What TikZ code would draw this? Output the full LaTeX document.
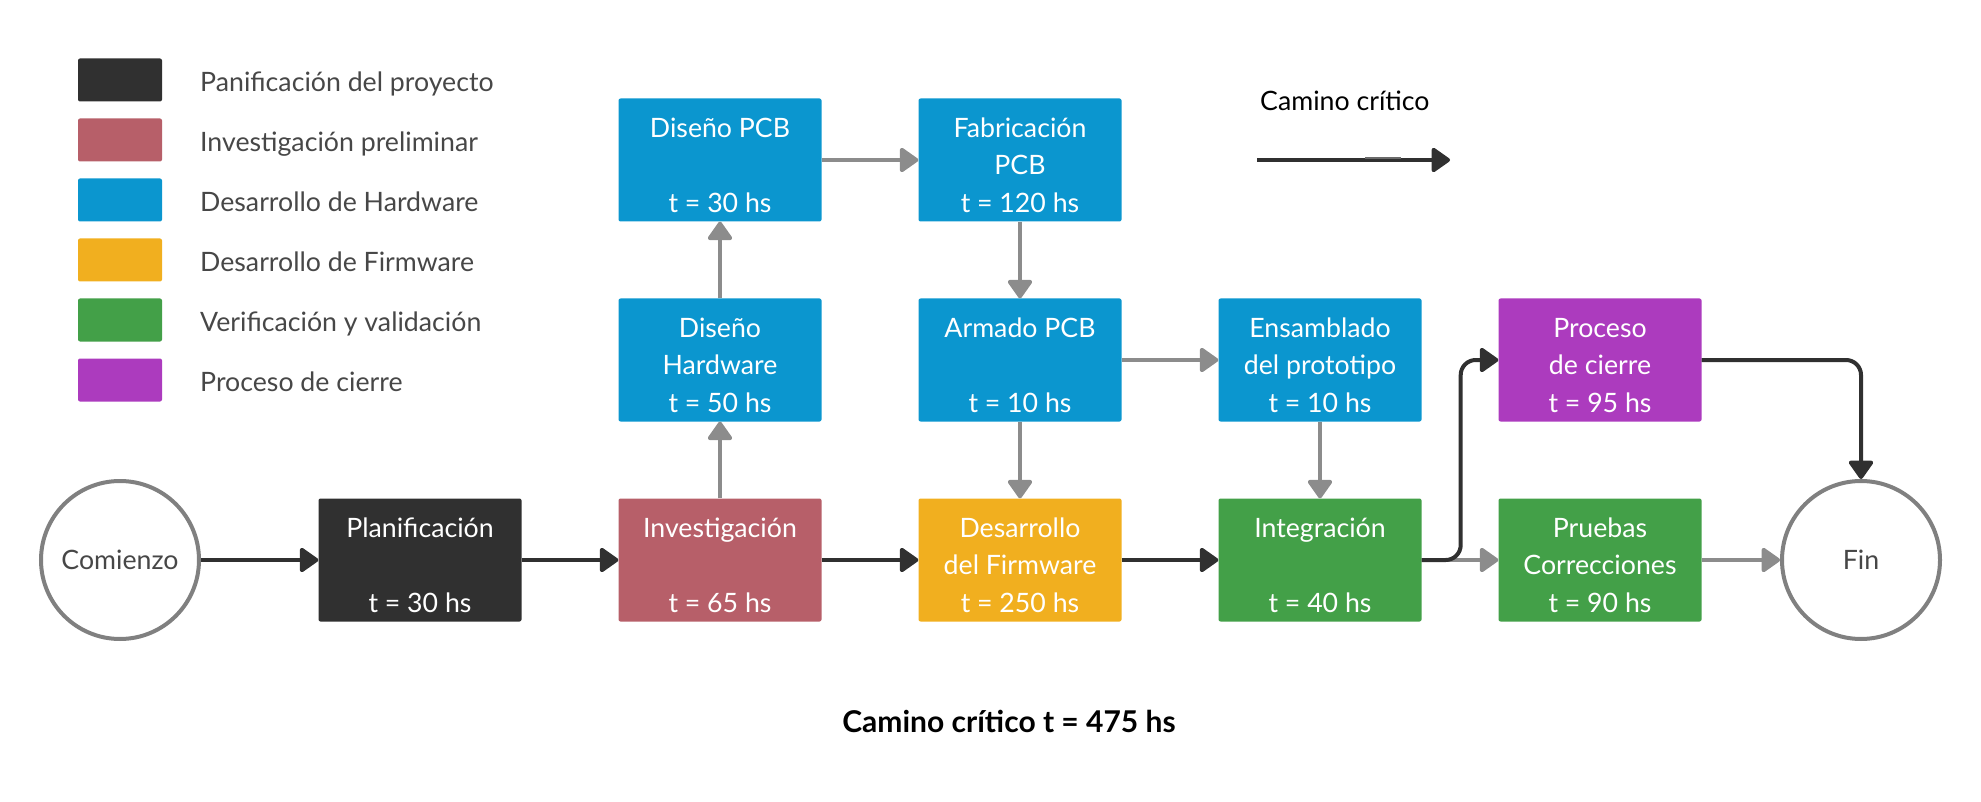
\documentclass[tikz,border=0pt]{standalone}
\usepackage{fontspec}
\setmainfont{Lato}
\usetikzlibrary{arrows.meta}
\definecolor{cblack}{HTML}{303030}
\definecolor{cred}{HTML}{B75F69}
\definecolor{cblue}{HTML}{0B96CF}
\definecolor{cyellow}{HTML}{F1AF1F}
\definecolor{cgreen}{HTML}{43A048}
\definecolor{cpurple}{HTML}{AC3BBE}
\definecolor{cgrey}{HTML}{8C8C8C}
\definecolor{cmid}{HTML}{6A6A6A}
\definecolor{ccircle}{HTML}{808080}
\definecolor{ctext}{HTML}{474747}
\newcommand\boxfont{\fontsize{26.7}{37.5}\selectfont}
\newcommand\legfont{\fontsize{26.7}{32}\selectfont}
\newcommand\tasklines[3]{\raisebox{-13.5pt}[0pt][0pt]{\begin{tabular}{@{}c@{}}#1\\#2\\#3\end{tabular}}}
\tikzset{
  task/.style={rounded corners=2pt, minimum width=203pt, minimum height=123pt,
    inner sep=0pt, text=white, font=\boxfont},
  swatch/.style={rounded corners=2pt, minimum width=84pt, minimum height=43pt, inner sep=0pt},
  legtext/.style={anchor=base west, text=ctext, font=\legfont, inner sep=0pt},
  endpoint/.style={circle, draw=ccircle, line width=4pt, minimum size=158pt,
    inner sep=0pt, text=ctext, font=\legfont},
  crit/.style={draw=cblack, line width=4pt, -{Triangle[length=20pt,width=27pt,round]}},
  dep/.style={draw=cgrey, line width=4pt, -{Triangle[length=20pt,width=27pt,round]}},
}
\begin{document}
\begin{tikzpicture}[x=1pt, y=-1pt]
\useasboundingbox (0,0) rectangle (1981,802);
% legend
\node[swatch, fill=cblack]  (s1) at (120,80) {};
\node[swatch, fill=cred]    (s2) at (120,140) {};
\node[swatch, fill=cblue]   (s3) at (120,200) {};
\node[swatch, fill=cyellow] (s4) at (120,260) {};
\node[swatch, fill=cgreen]  (s5) at (120,320) {};
\node[swatch, fill=cpurple] (s6) at (120,380) {};
\node[legtext] (l1) at (200,91.5)  {Panificación del proyecto};
\node[legtext] (l2) at (200,151.5) {Investigación preliminar};
\node[legtext] (l3) at (200,211.5) {Desarrollo de Hardware};
\node[legtext] (l4) at (200,271.5) {Desarrollo de Firmware};
\node[legtext] (l5) at (200,331.5) {Verificación y validación};
\node[legtext] (l6) at (200,391.5) {Proceso de cierre};
% critical path legend
\node[anchor=base west, inner sep=0pt, font=\legfont, text=black] (cc) at (1260,111) {Camino crítico};
\coordinate (la) at (1257,160);
\coordinate (lb) at (1450,160);
\draw[crit] (la) -- (lb);
\coordinate (ga) at (1365,158);
\coordinate (gb) at (1401,158);
\draw[cmid, line width=1.5pt] (ga) -- (gb);
% tasks
\node[task, fill=cblack]  (plan)   at (420,560)  {\tasklines{Planificación}{}{t = 30 hs}};
\node[task, fill=cred]    (inv)    at (720,560)  {\tasklines{Investigación}{}{t = 65 hs}};
\node[task, fill=cyellow] (firm)   at (1020,560) {\tasklines{Desarrollo}{del Firmware}{t = 250 hs}};
\node[task, fill=cgreen]  (integ)  at (1320,560) {\tasklines{Integración}{}{t = 40 hs}};
\node[task, fill=cgreen]  (prue)   at (1600,560) {\tasklines{Pruebas}{Correcciones}{t = 90 hs}};
\node[task, fill=cblue]   (dhw)    at (720,360)  {\tasklines{Diseño}{Hardware}{t = 50 hs}};
\node[task, fill=cblue]   (arm)    at (1020,360) {\tasklines{Armado PCB}{}{t = 10 hs}};
\node[task, fill=cblue]   (ens)    at (1320,360) {\tasklines{Ensamblado}{del prototipo}{t = 10 hs}};
\node[task, fill=cpurple] (cierre) at (1600,360) {\tasklines{Proceso}{de cierre}{t = 95 hs}};
\node[task, fill=cblue]   (dpcb)   at (720,160)  {\tasklines{Diseño PCB}{}{t = 30 hs}};
\node[task, fill=cblue]   (fab)    at (1020,160) {\tasklines{Fabricación}{PCB}{t = 120 hs}};
% start / end
\node[endpoint] (start) at (120,560) {Comienzo};
\node[endpoint] (fin)   at (1861,560) {Fin};
% dependencies
\draw[dep] (inv) -- (dhw);
\draw[dep] (dhw) -- (dpcb);
\draw[dep] (dpcb) -- (fab);
\draw[dep] (fab) -- (arm);
\draw[dep] (arm) -- (ens);
\draw[dep] (arm) -- (firm);
\draw[dep] (ens) -- (integ);
\draw[dep] (integ) -- (prue);
\draw[dep] (prue) -- (fin);
% critical path
\draw[crit] (start) -- (plan);
\draw[crit] (plan) -- (inv);
\draw[crit] (inv) -- (firm);
\draw[crit] (firm) -- (integ);
\draw[crit, rounded corners=15pt] (integ.east) -- ++(39,0) |- (cierre.west);
\draw[crit, rounded corners=15pt] (cierre.east) -| (fin.north);
% total
\node[font=\fontsize{30}{36}\selectfont\bfseries, text=black, anchor=base] (total) at (1009,732) {Camino crítico t = 475 hs};
\end{tikzpicture}
\end{document}
